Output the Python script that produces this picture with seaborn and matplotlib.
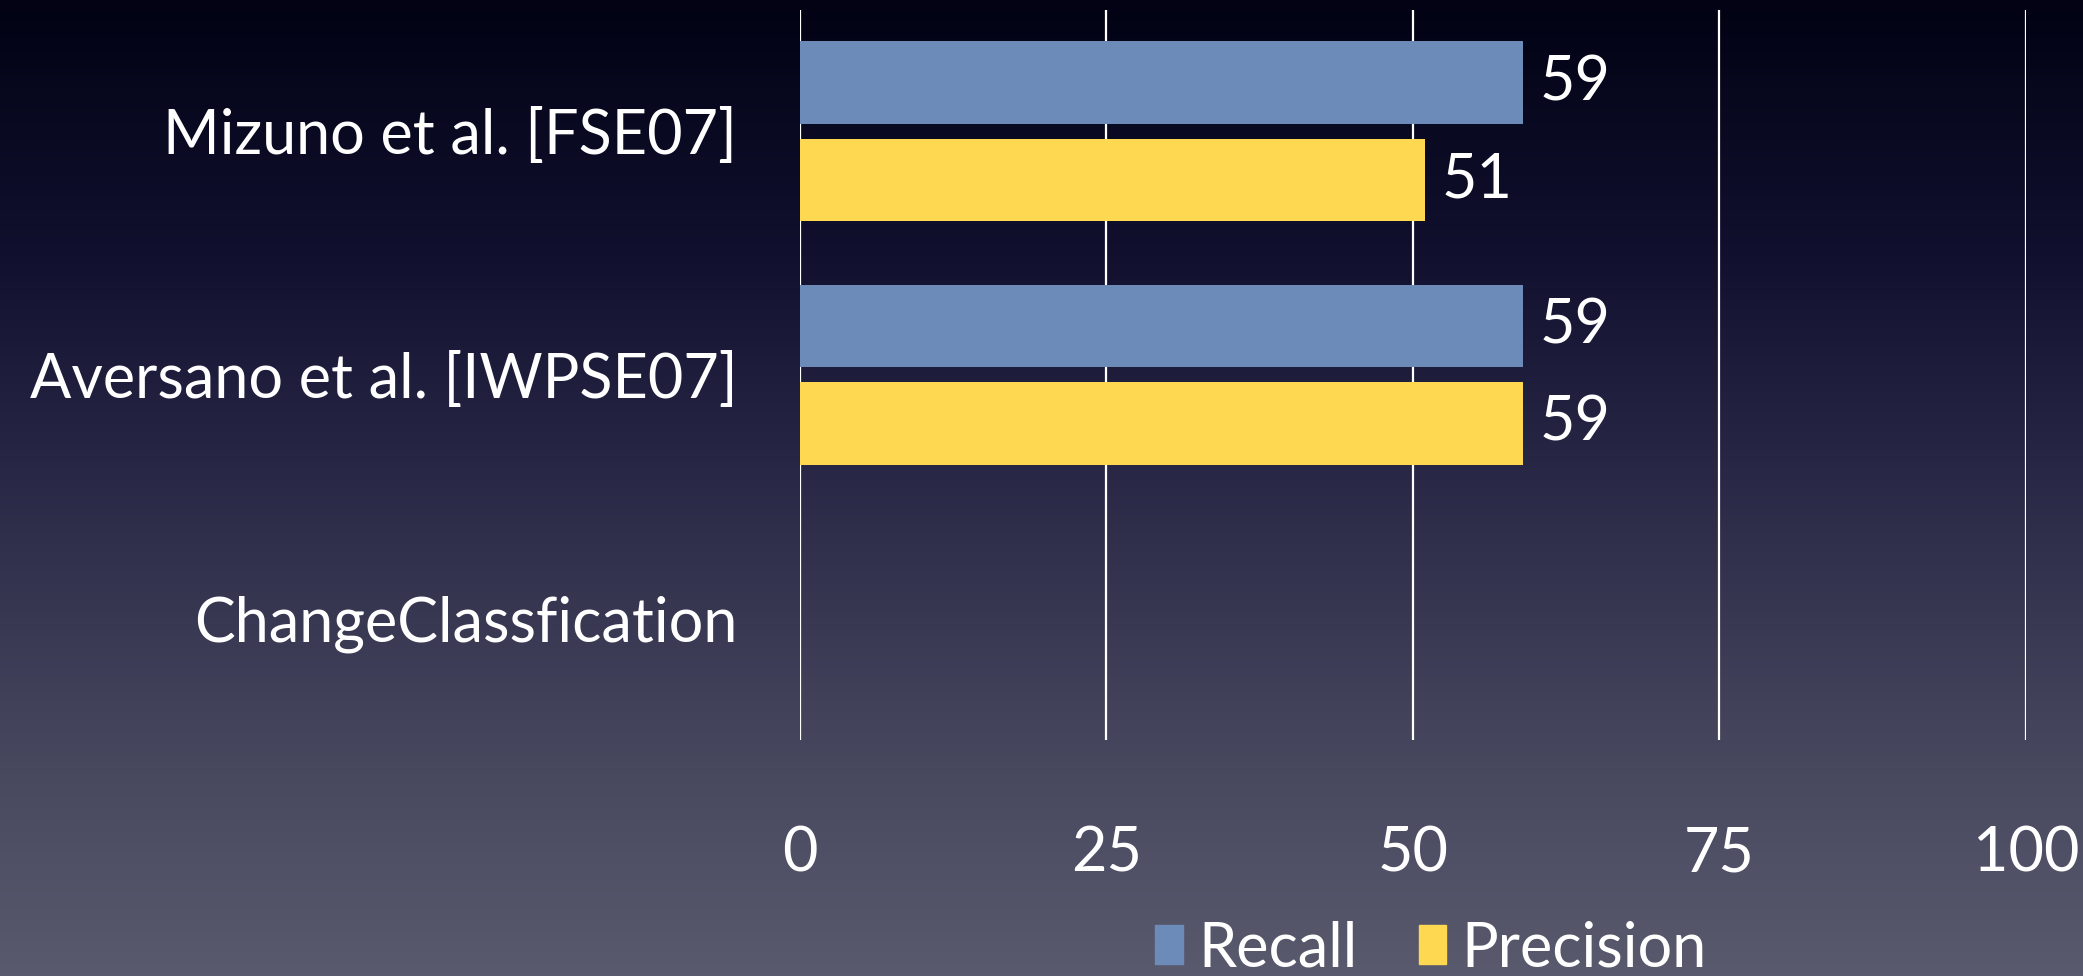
import numpy as np
import pandas as pd
import matplotlib
matplotlib.use('Agg')
import matplotlib.pyplot as plt
from matplotlib.colors import LinearSegmentedColormap
import seaborn as sns

# Chart data
methods = ['Mizuno et al. [FSE07]', 'Aversano et al. [IWPSE07]', 'ChangeClassfication']
recall = [59, 59, np.nan]
precision = [51, 59, np.nan]
series = ['Recall', 'Precision']
x_ticks = [0, 25, 50, 75, 100]

df = pd.DataFrame({
    'method': methods * 2,
    'metric': ['Recall'] * 3 + ['Precision'] * 3,
    'value': recall + precision,
})

sns.set_theme(style='white')
plt.rcParams['font.family'] = ['Lato', 'DejaVu Sans']
fs = 44
colors = ['#6d8bb9', '#fdd850']

fig = plt.figure(figsize=(20.83, 9.76), dpi=100)

# Slide-like gradient background
bg = fig.add_axes([0, 0, 1, 1], zorder=-10)
cmap = LinearSegmentedColormap.from_list(
    'slide', ['#020214', '#10102e', '#2a2a48', '#44445c', '#5a5a6e'])
bg.imshow(np.linspace(0, 1, 256).reshape(-1, 1), aspect='auto', cmap=cmap, extent=[0, 1, 0, 1])
bg.axis('off')

ax = fig.add_axes([0.384, 0.242, 0.5886, 0.748])
ax.set_facecolor('none')
sns.barplot(data=df, y='method', x='value', hue='metric', order=methods, hue_order=series,
            palette=colors, saturation=1, orient='h', width=0.8, gap=0.15,
            linewidth=0, ax=ax, legend=False, zorder=3)

for c in ax.containers:
    ax.bar_label(c, fmt='%g', padding=12, fontsize=fs, color='white')

ax.set_xlim(0, 100)
ax.set_ylim(2.5, -0.5)
ax.set_xticks(x_ticks)
ax.grid(axis='x', color='white', linewidth=1.6, zorder=0)
ax.grid(axis='y', visible=False)
for s in ax.spines.values():
    s.set_visible(False)
ax.tick_params(axis='x', length=0, pad=62, labelsize=fs, labelcolor='white')
ax.tick_params(axis='y', length=0, pad=45, labelsize=fs, labelcolor='white')
ax.set_xlabel('')
ax.set_ylabel('')

handles = [plt.Rectangle((0, 0), 1, 1, color=col) for col in colors]
fig.legend(handles, series, loc='center', bbox_to_anchor=(0.687, 0.028), ncol=2,
           frameon=False, fontsize=fs, labelcolor='white', handlelength=0.45,
           handleheight=0.6, handletextpad=0.25, columnspacing=1.0)

fig.savefig('out.png', dpi=100)
